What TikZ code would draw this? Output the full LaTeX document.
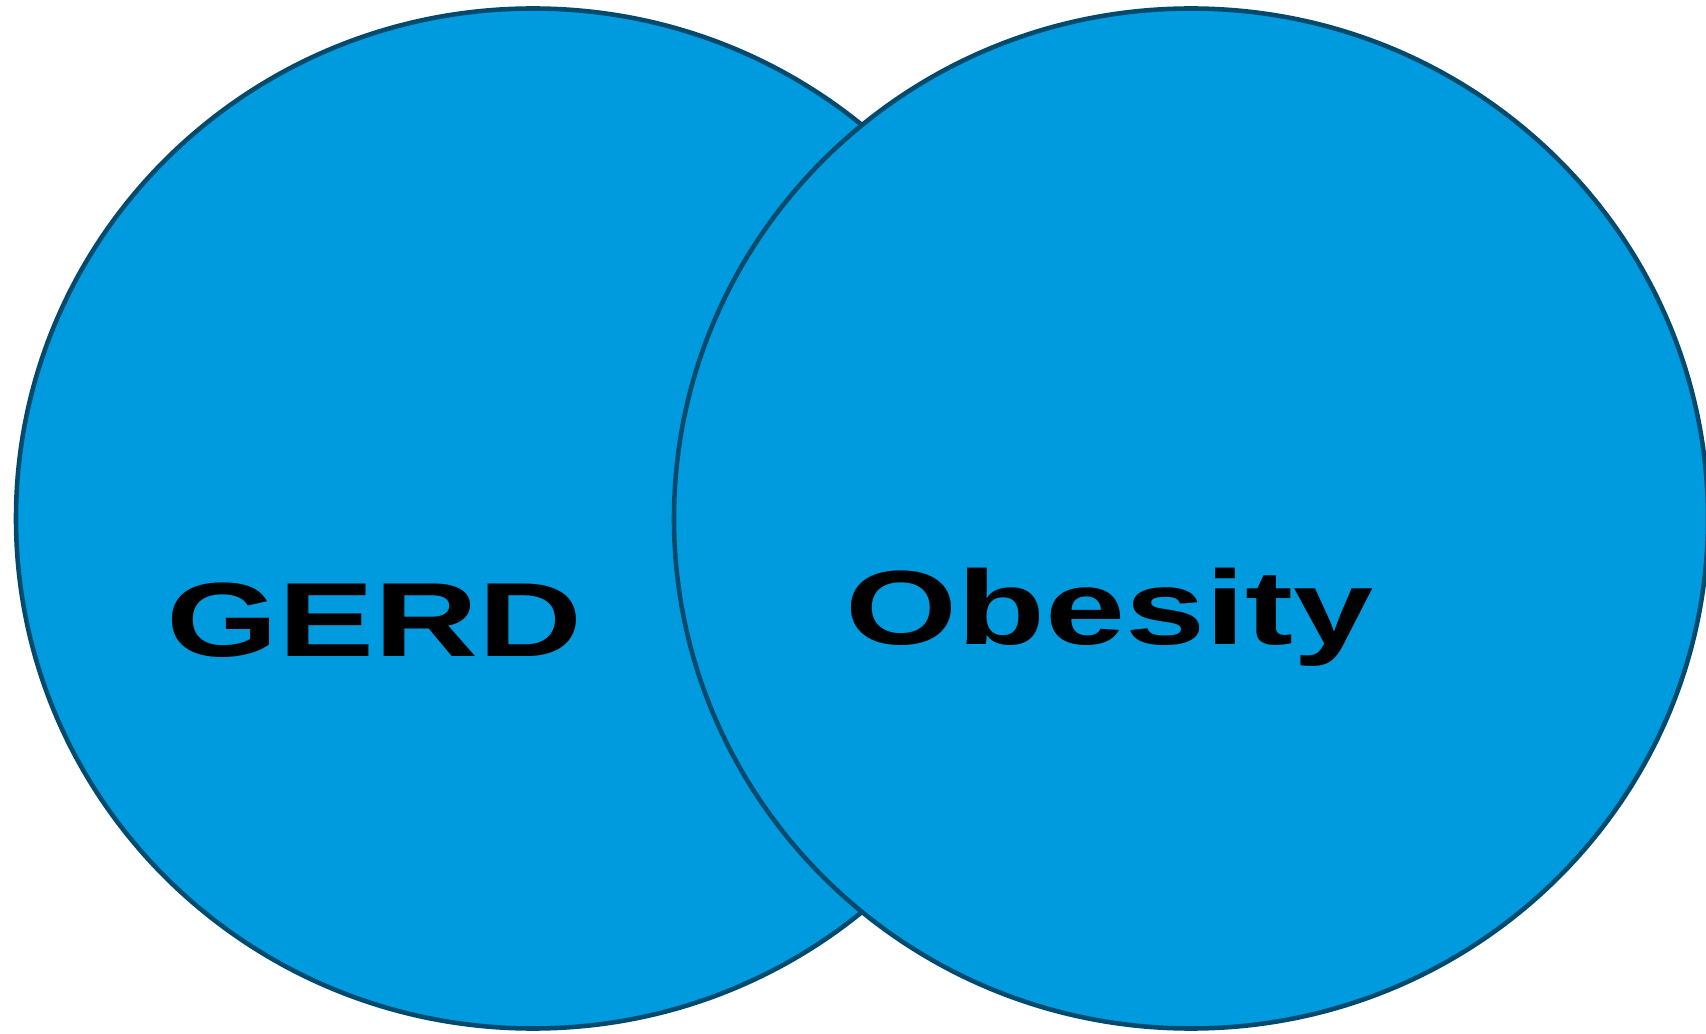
\documentclass[tikz,border=0pt]{standalone}
\usepackage{fontspec}
\setmainfont{Liberation Sans}
\usepackage{tikz}
\usetikzlibrary{backgrounds}
\definecolor{setfill}{RGB}{0,155,222}
\definecolor{setline}{RGB}{0,74,110}
\tikzset{set/.style={fill=setfill,draw=setline,line width=1.3pt},
  setlabel/.style={inner sep=0pt,anchor=base west,xscale=1.365,transform shape,
    font=\fontsize{30}{36}\selectfont\bfseries}}

\begin{document}
\begin{tikzpicture}
\useasboundingbox (0,0) rectangle (17.06,10.33);
\draw[set] (5.33,5.145) ellipse [x radius=5.17, y radius=5.10];
\draw[set] (11.91,5.145) ellipse [x radius=5.17, y radius=5.10];
\node[setlabel] (gerd) at (1.66,3.76) {GERD};
\node[setlabel] (obesity) at (8.45,3.89) {Obesity};
\end{tikzpicture}
\end{document}
